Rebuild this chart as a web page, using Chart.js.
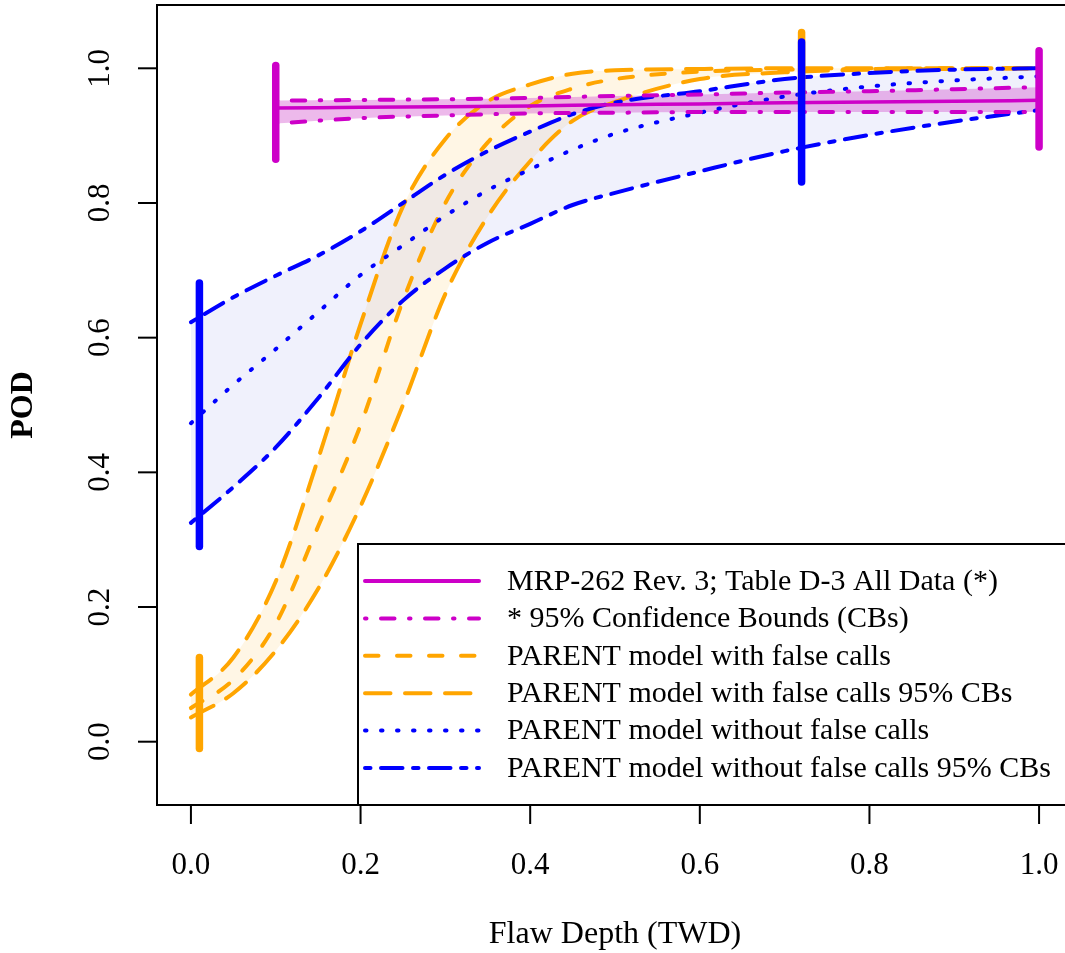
<!DOCTYPE html>
<html>
<head>
<meta charset="utf-8">
<title>POD vs Flaw Depth</title>
<script src="https://cdn.jsdelivr.net/npm/chart.js@4.4.1/dist/chart.umd.min.js"></script>
<style>
  html, body { margin: 0; padding: 0; background: #fff; overflow: hidden; }
  #wrap { width: 1065px; height: 953px; overflow: hidden; position: relative; }
  canvas { display: block; }
</style>
</head>
<body>
<div id="wrap"><canvas id="pod" width="1085" height="953" style="width:1085px;height:953px"></canvas></div>
<script>
// POD curves: MRP-262 table fit vs PARENT models, with 95% bounds

const depth = [0, 0.05, 0.1, 0.15, 0.2, 0.25, 0.3, 0.35, 0.4, 0.45, 0.5, 0.6, 0.7, 0.8, 0.9, 1.0];

const withFalseFit   = [0.05, 0.092, 0.175, 0.32, 0.47, 0.655, 0.80, 0.89, 0.944, 0.97, 0.984, 0.995, 0.998, 0.999, 1.0, 1.0];
const withFalseUpper = [0.07, 0.125, 0.238, 0.42, 0.62, 0.795, 0.895, 0.951, 0.976, 0.992, 0.997, 0.999, 1.0, 1.0, 1.0, 1.0];
const withFalseLower = [0.036, 0.072, 0.135, 0.227, 0.35, 0.50, 0.665, 0.78, 0.862, 0.922, 0.95, 0.984, 0.994, 0.998, 0.999, 1.0];

const withoutFalseFit   = [0.473, 0.53, 0.583, 0.638, 0.693, 0.737, 0.781, 0.819, 0.85, 0.879, 0.903, 0.934, 0.958, 0.973, 0.982, 0.988];
const withoutFalseUpper = [0.623, 0.66, 0.692, 0.722, 0.758, 0.80, 0.842, 0.877, 0.906, 0.932, 0.949, 0.966, 0.984, 0.993, 0.998, 1.0];
const withoutFalseLower = [0.325, 0.378, 0.437, 0.51, 0.59, 0.655, 0.703, 0.741, 0.769, 0.797, 0.815, 0.847, 0.877, 0.901, 0.921, 0.938];

const mrpDepth = [0.1, 0.2, 0.3, 0.4, 0.5, 0.6, 0.7, 0.8, 0.9, 1.0];
const mrpFit   = [0.941, 0.942, 0.943, 0.944, 0.946, 0.947, 0.949, 0.950, 0.951, 0.9525];
const mrpUpper = [0.952, 0.953, 0.954, 0.956, 0.959, 0.961, 0.964, 0.966, 0.969, 0.972];
const mrpLower = [0.918, 0.926, 0.930, 0.933, 0.934, 0.935, 0.935, 0.935, 0.935, 0.935];

// interval bars at selected depths
const barSeries = ["mrp", "mrp", "with", "without", "with", "without"];
const barDepth  = [0.1, 1.0, 0.01, 0.01, 0.72, 0.72];
const barLow    = [0.865, 0.883, -0.01, 0.29, 0.955, 0.831];
const barHigh   = [1.004, 1.026, 0.125, 0.681, 1.053, 1.039];

const xTicks = [0, 0.2, 0.4, 0.6, 0.8, 1.0];
const yTicks = [0, 0.2, 0.4, 0.6, 0.8, 1.0];

const legendLabels = [
  "MRP-262 Rev. 3; Table D-3 All Data (*)",
  "* 95% Confidence Bounds (CBs)",
  "PARENT model with false calls",
  "PARENT model with false calls 95% CBs",
  "PARENT model without false calls",
  "PARENT model without false calls 95% CBs",
];

const MAGENTA = "#cd00c8";
const ORANGE = "#ffa500";
const BLUE = "#0000ff";
const seriesColor = { mrp: MAGENTA, with: ORANGE, without: BLUE };

// R line types at lwd 4, shortened a little for the round caps
const LTY = {
  solid: [],
  dashed: [13.5, 18.5],
  longdash: [25.5, 14.5],
  dotted: [1.5, 14.5],
  dotdash: [1.5, 14.5, 13.5, 14.5],
  twodash: [5.5, 10.5, 21.5, 10.5],
};

const FONT = '"Liberation Serif", "Times New Roman", serif';

const pts = (xs, ys) => xs.map((x, i) => ({ x, y: ys[i] }));

function curve(xs, ys, color, dash, extra) {
  return Object.assign({
    data: pts(xs, ys),
    borderColor: color,
    borderWidth: 4,
    borderDash: dash,
    borderCapStyle: "round",
    borderJoinStyle: "round",
    pointRadius: 0,
    cubicInterpolationMode: "monotone",
    fill: false,
  }, extra || {});
}

const datasets = [];
// 0-2 magenta
datasets.push(curve(mrpDepth, mrpUpper, MAGENTA, LTY.dotdash, { order: 1, fill: { target: 1 }, backgroundColor: "rgba(215,100,210,0.45)" }));
datasets.push(curve(mrpDepth, mrpLower, MAGENTA, LTY.dotdash, { order: 1 }));
datasets.push(curve(mrpDepth, mrpFit, MAGENTA, LTY.solid, { order: 1, borderWidth: 3.5 }));
// 3-5 orange
datasets.push(curve(depth, withFalseUpper, ORANGE, LTY.longdash, { order: 3, fill: { target: 4 }, backgroundColor: "rgba(255,165,0,0.1)" }));
datasets.push(curve(depth, withFalseLower, ORANGE, LTY.longdash, { order: 3 }));
datasets.push(curve(depth, withFalseFit, ORANGE, LTY.dashed, { order: 3 }));
// 6-8 blue
datasets.push(curve(depth, withoutFalseUpper, BLUE, LTY.twodash, { order: 2, fill: { target: 7 }, backgroundColor: "rgba(60,80,220,0.08)" }));
datasets.push(curve(depth, withoutFalseLower, BLUE, LTY.twodash, { order: 2 }));
datasets.push(curve(depth, withoutFalseFit, BLUE, LTY.dotted, { order: 2 }));
// interval bars on top, orange first so blue covers it
barSeries.forEach((s, i) => {
  datasets.push({
    data: [{ x: barDepth[i], y: barLow[i] }, { x: barDepth[i], y: barHigh[i] }],
    borderColor: seriesColor[s],
    borderWidth: 7.5,
    borderCapStyle: "round",
    pointRadius: 0,
    fill: false,
    order: s === "with" ? 0.5 : 0,
  });
});

const legendStyles = [
  { color: MAGENTA, dash: LTY.solid },
  { color: MAGENTA, dash: LTY.dotdash },
  { color: ORANGE, dash: LTY.dashed },
  { color: ORANGE, dash: LTY.longdash },
  { color: BLUE, dash: LTY.dotted },
  { color: BLUE, dash: LTY.twodash },
];

// box, axes, titles and legend in base-graphics style
const framePlugin = {
  id: "frame",
  afterDraw(chart) {
    const { ctx, chartArea: a, scales } = chart;
    ctx.save();
    ctx.strokeStyle = "#000";
    ctx.fillStyle = "#000";
    ctx.lineWidth = 2;
    ctx.setLineDash([]);
    ctx.strokeRect(a.left, a.top, a.right - a.left, a.bottom - a.top);

    ctx.font = "31px " + FONT;
    ctx.textAlign = "center";
    ctx.textBaseline = "middle";
    xTicks.forEach((v) => {
      const px = scales.x.getPixelForValue(v);
      ctx.beginPath();
      ctx.moveTo(px, a.bottom);
      ctx.lineTo(px, a.bottom + 19);
      ctx.stroke();
      ctx.fillText(v.toFixed(1), px, a.bottom + 61);
    });
    yTicks.forEach((v) => {
      const py = scales.y.getPixelForValue(v);
      ctx.beginPath();
      ctx.moveTo(a.left, py);
      ctx.lineTo(a.left - 19, py);
      ctx.stroke();
      ctx.save();
      ctx.translate(a.left - 56, py);
      ctx.rotate(-Math.PI / 2);
      ctx.fillText(v.toFixed(1), 0, 0);
      ctx.restore();
    });

    ctx.font = "32px " + FONT;
    ctx.fillText("Flaw Depth (TWD)", (a.left + a.right) / 2, 935);
    ctx.save();
    ctx.translate(24, (a.top + a.bottom) / 2);
    ctx.rotate(-Math.PI / 2);
    ctx.font = "bold 32px " + FONT;
    ctx.fillText("POD", 0, 0);
    ctx.restore();

    // legend
    const lx = 358, ly = 544;
    ctx.fillStyle = "#fff";
    ctx.fillRect(lx, ly, chart.width - lx + 5, a.bottom - ly);
    ctx.strokeStyle = "#000";
    ctx.lineWidth = 2;
    ctx.strokeRect(lx, ly, chart.width - lx + 5, a.bottom - ly);
    ctx.font = "30px " + FONT;
    ctx.textAlign = "left";
    legendLabels.forEach((label, i) => {
      const y = 581 + i * 37.4;
      const st = legendStyles[i];
      ctx.strokeStyle = st.color;
      ctx.lineWidth = 4;
      ctx.lineCap = "round";
      ctx.setLineDash(st.dash);
      ctx.beginPath();
      ctx.moveTo(365, y);
      ctx.lineTo(479, y);
      ctx.stroke();
      ctx.setLineDash([]);
      ctx.fillStyle = "#000";
      ctx.fillText(label, 507, y + 1);
    });
    ctx.restore();
  },
};

new Chart(document.getElementById("pod"), {
  type: "line",
  data: { datasets },
  options: {
    responsive: false,
    animation: false,
    parsing: true,
    layout: { padding: { left: 157, right: 12, top: 5, bottom: 148 } },
    scales: {
      x: { type: "linear", min: -0.04, max: 1.04, display: false },
      y: { type: "linear", min: -0.094, max: 1.094, display: false },
    },
    plugins: {
      legend: { display: false },
      tooltip: { enabled: false },
      filler: { drawTime: "beforeDatasetsDraw" },
    },
  },
  plugins: [framePlugin],
});
</script>
</body>
</html>
